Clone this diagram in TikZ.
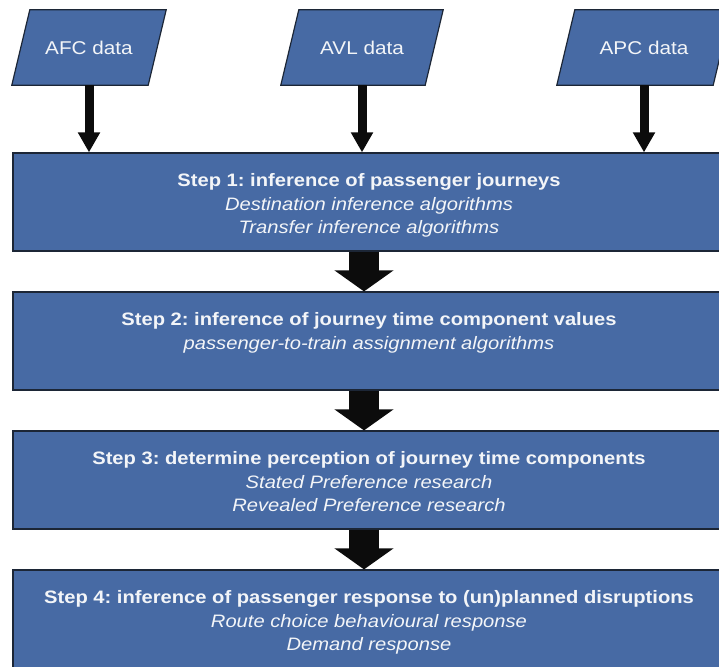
\documentclass[tikz,border=0pt]{standalone}
\usepackage{fontspec}
\setmainfont{Liberation Sans}[FakeStretch=1.12]
\frenchspacing
\usetikzlibrary{arrows.meta,backgrounds}
\definecolor{boxblue}{RGB}{71,106,164}
\definecolor{edgenavy}{RGB}{28,38,54}
\definecolor{labelwhite}{RGB}{243,245,248}
\definecolor{arrowblack}{RGB}{12,12,12}
\begin{document}
\begin{tikzpicture}[x=1pt,y=-1pt,
  datalabel/.style={rectangle, minimum height=75pt, inner sep=0pt, text=labelwhite,
    font=\fontsize{18.5}{22}\selectfont},
  dataframe/.style={draw=edgenavy, line width=1.2pt, fill=boxblue, line join=miter},
  stepbox/.style={rectangle, draw=edgenavy, line width=1.2pt, fill=boxblue,
    minimum width=712pt, minimum height=98pt, inner sep=0pt},
  steptext/.style={anchor=north, align=center, inner sep=0pt, text=labelwhite,
    font=\fontsize{18}{23.5}\selectfont},
  feed/.style={draw=arrowblack, line width=9pt, -{Triangle[width=21pt,length=20pt]}},
  flow/.style={draw=arrowblack, line width=30pt, -{Triangle[width=58pt,length=21pt]}}]

\useasboundingbox (0,0) rectangle (719,666);
\clip (0,0) rectangle (719,666);

% data sources: label nodes span the bounding box of each slanted frame
\node[datalabel, minimum width=154pt] (afc) at (89,47.5) {AFC data};
\node[datalabel, minimum width=162pt] (avl) at (362,47.5) {AVL data};
\node[datalabel, minimum width=174pt] (apc) at (644,47.5) {APC data};

\begin{pgfonlayer}{background}
  \foreach \src in {afc,avl,apc}
    \draw[dataframe] ([xshift=18pt]\src.north west) -- (\src.north east)
      -- ([xshift=-18pt]\src.south east) -- (\src.south west) -- cycle;
\end{pgfonlayer}

% processing steps
\node[stepbox] (s1) at (369,202) {};
\node[stepbox] (s2) at (369,341) {};
\node[stepbox] (s3) at (369,480) {};
\node[stepbox] (s4) at (369,619) {};

\node[steptext] (s1t) at ([yshift=-21pt]s1.north)
  {\textbf{Step 1: inference of passenger journeys}\\
   \textit{Destination inference algorithms}\\
   \textit{Transfer inference algorithms}};
\node[steptext] (s2t) at ([yshift=-21pt]s2.north)
  {\textbf{Step 2: inference of journey time component values}\\
   \textit{passenger-to-train assignment algorithms}};
\node[steptext] (s3t) at ([yshift=-21pt]s3.north)
  {\textbf{Step 3: determine perception of journey time components}\\
   \textit{Stated Preference research}\\
   \textit{Revealed Preference research}};
\node[steptext] (s4t) at ([yshift=-21pt]s4.north)
  {\textbf{Step 4: inference of passenger response to (un)planned disruptions}\\
   \textit{Route choice behavioural response}\\
   \textit{Demand response}};

% inputs into step 1
\draw[feed] (afc.south) -- (afc.south |- s1.north);
\draw[feed] (avl.south) -- (avl.south |- s1.north);
\draw[feed] (apc.south) -- (apc.south |- s1.north);

% step sequence
\draw[flow] ([xshift=-5pt]s1.south) -- ([xshift=-5pt]s2.north);
\draw[flow] ([xshift=-5pt]s2.south) -- ([xshift=-5pt]s3.north);
\draw[flow] ([xshift=-5pt]s3.south) -- ([xshift=-5pt]s4.north);
\end{tikzpicture}
\end{document}
